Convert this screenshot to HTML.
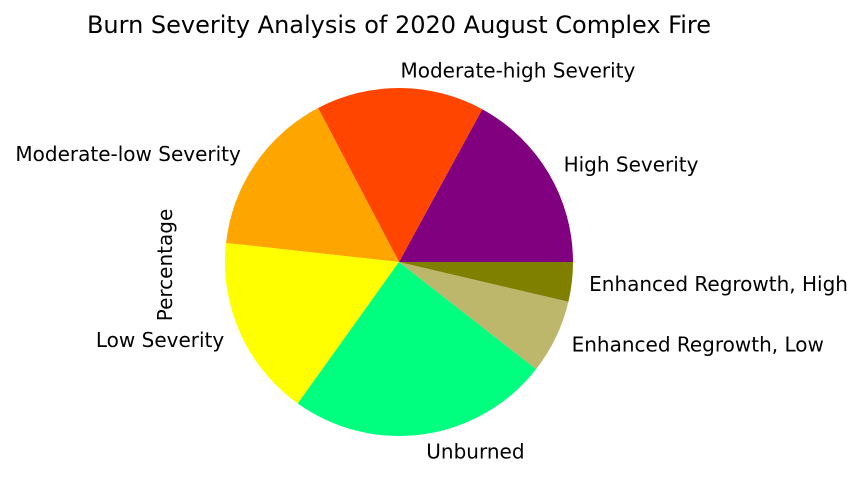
<!DOCTYPE html>
<html><head><meta charset="utf-8"><style>
body{margin:0;background:#fff;}
svg{display:block;font-family:"DejaVu Sans","Liberation Sans",sans-serif;}
</style></head><body>
<svg id="chart" width="863" height="494" viewBox="0 0 863 494">
<text x="399" y="33" text-anchor="middle" font-size="24" fill="#000">Burn Severity Analysis of 2020 August Complex Fire</text>
<text transform="translate(172,265) rotate(-90)" text-anchor="middle" font-size="20" fill="#000">Percentage</text>
<g id="slices"></g><g id="labels"></g>
</svg>
<script>
const categories=["High Severity","Moderate-high Severity","Moderate-low Severity","Low Severity","Unburned","Enhanced Regrowth, Low","Enhanced Regrowth, High"];
const values=[17.06,15.64,15.56,16.86,24.33,6.89,3.67];
const colors=["#800080","#ff4500","#ffa500","#ffff00","#00ff7f","#bdb76b","#808000"];
const cx=399,cy=262,r=174,ns="http://www.w3.org/2000/svg";
const total=values.reduce((a,b)=>a+b,0);
let a0=0;
const gs=document.getElementById('slices'),gl=document.getElementById('labels');
values.forEach((v,i)=>{
  const a1=a0+v/total*2*Math.PI;
  const x0=cx+r*Math.cos(a0),y0=cy-r*Math.sin(a0),x1=cx+r*Math.cos(a1),y1=cy-r*Math.sin(a1);
  const p=document.createElementNS(ns,'path');
  p.setAttribute('d',`M${cx},${cy}L${x0},${y0}A${r},${r} 0 ${(a1-a0)>Math.PI?1:0} 0 ${x1},${y1}Z`);
  p.setAttribute('fill',colors[i]);
  
  
  gs.appendChild(p);
  const m=(a0+a1)/2,lx=cx+1.1*r*Math.cos(m),ly=cy-1.1*r*Math.sin(m);
  const t=document.createElementNS(ns,'text');
  t.setAttribute('x',lx);t.setAttribute('y',ly+7);
  t.setAttribute('font-size','20');
  t.setAttribute('text-anchor',Math.cos(m)>=0?'start':'end');
  t.textContent=categories[i];
  
  
  gl.appendChild(t);
  a0=a1;
});
</script>
</body></html>
